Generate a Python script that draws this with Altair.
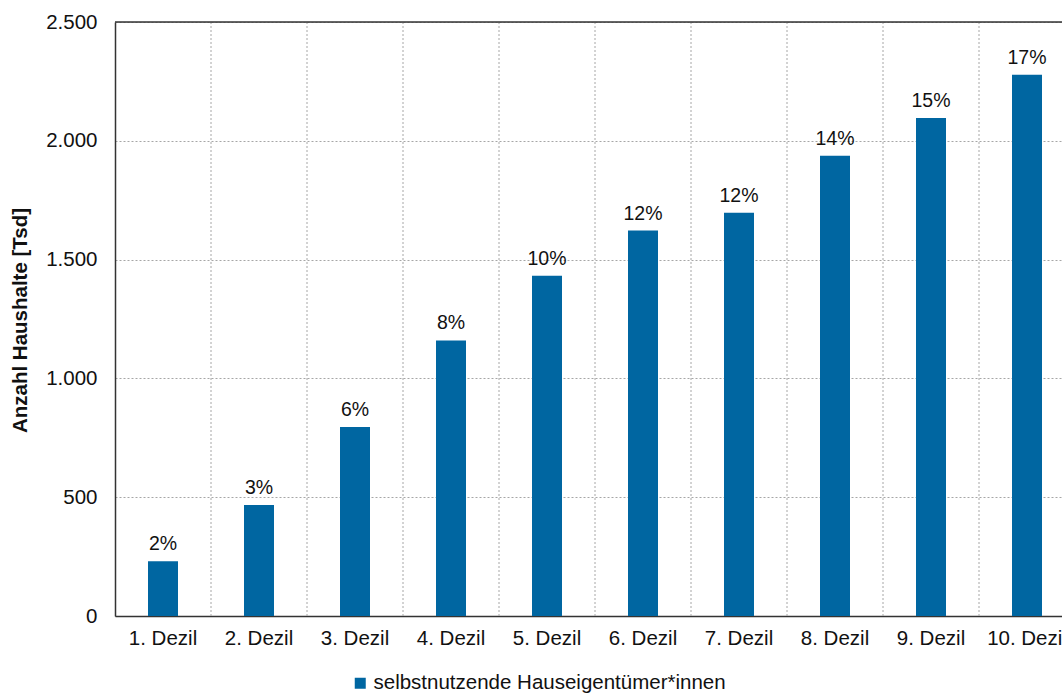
import altair as alt
import pandas as pd

# Income deciles and owner-occupier households (thousands) with their share
deciles = ["1. Dezil", "2. Dezil", "3. Dezil", "4. Dezil", "5. Dezil",
           "6. Dezil", "7. Dezil", "8. Dezil", "9. Dezil", "10. Dezil"]
households = [230, 467, 795, 1160, 1432, 1622, 1697, 1937, 2096, 2278]
shares = ["2%", "3%", "6%", "8%", "10%", "12%", "12%", "14%", "15%", "17%"]
series_name = "selbstnutzende Hauseigentümer*innen"

df = pd.DataFrame({
    "dezil": deciles,
    "anzahl": households,
    "anteil": shares,
    "reihe": [series_name] * len(deciles),
})

FONT = "Liberation Sans"
BLUE = "#0066A1"
TEXT = "#111111"
x_scale = alt.Scale(domain=deciles, range=[0, 960], paddingInner=0, paddingOuter=0)
y_scale = alt.Scale(domain=[0, 2500], nice=False)

x_axis = alt.Axis(title=None, labelAngle=0, ticks=False, grid=False,
                  domainColor="#333333", domainWidth=1.5,
                  labelFontSize=20.5, labelPadding=12, labelColor=TEXT,
                  labelFont=FONT)
y_axis = alt.Axis(title="Anzahl Haushalte [Tsd]", values=[0, 500, 1000, 1500, 2000, 2500],
                  labelExpr="replace(format(datum.value, ',.0f'), ',', '.')",
                  ticks=False, grid=True, gridDash=[2, 2], gridColor="#a6a6a6",
                  gridWidth=1, domainColor="#333333", domainWidth=1.5,
                  labelFontSize=20.5, labelPadding=18, labelColor=TEXT,
                  labelFont=FONT, titleFont=FONT, titleFontSize=20.5,
                  titleFontWeight="bold", titleColor=TEXT,
                  titleX=-85, titleY=298)

x_enc = alt.X("dezil:N", scale=x_scale, sort=deciles, axis=x_axis)
y_enc = alt.Y("anzahl:Q", scale=y_scale, axis=y_axis)

base = alt.Chart(df)

# dotted separators at the left edge of each decile band (except the first)
vgrid = base.transform_filter(
    alt.datum.dezil != deciles[0]
).mark_rule(color="#a6a6a6", strokeDash=[2, 2], strokeWidth=1).encode(
    x=alt.X("dezil:N", scale=x_scale, sort=deciles, axis=x_axis, bandPosition=0),
)

bars = base.mark_bar(width=30, color=BLUE).encode(
    x=x_enc,
    y=y_enc,
    color=alt.Color("reihe:N", scale=alt.Scale(domain=[series_name], range=[BLUE]),
                    legend=alt.Legend(orient="none", legendX=235, legendY=651,
                                      title=None, symbolType="square", symbolSize=121,
                                      symbolStrokeWidth=0, labelFontSize=20.5,
                                      labelLimit=0, labelFont=FONT,
                                      labelColor=TEXT, labelOffset=3)),
)

labels = base.mark_text(baseline="alphabetic", dy=-11, fontSize=19.5, font=FONT,
                        color=TEXT).encode(
    x=x_enc,
    y=y_enc,
    text="anteil:N",
)

top_border = alt.Chart(pd.DataFrame({"anzahl": [2500]})).mark_rule(
    color="#333333", strokeWidth=1.5).encode(
    y=y_enc,
)

chart = alt.layer(vgrid, bars, labels, top_border).properties(
    width=947,
    height=594,
    autosize=alt.AutoSizeParams(type="none"),
    padding={"left": 115, "top": 22, "right": 0, "bottom": 80},
).configure_view(stroke=None).configure(background="white")

chart.save("out.html", embed_options={"renderer": "svg", "actions": False})
